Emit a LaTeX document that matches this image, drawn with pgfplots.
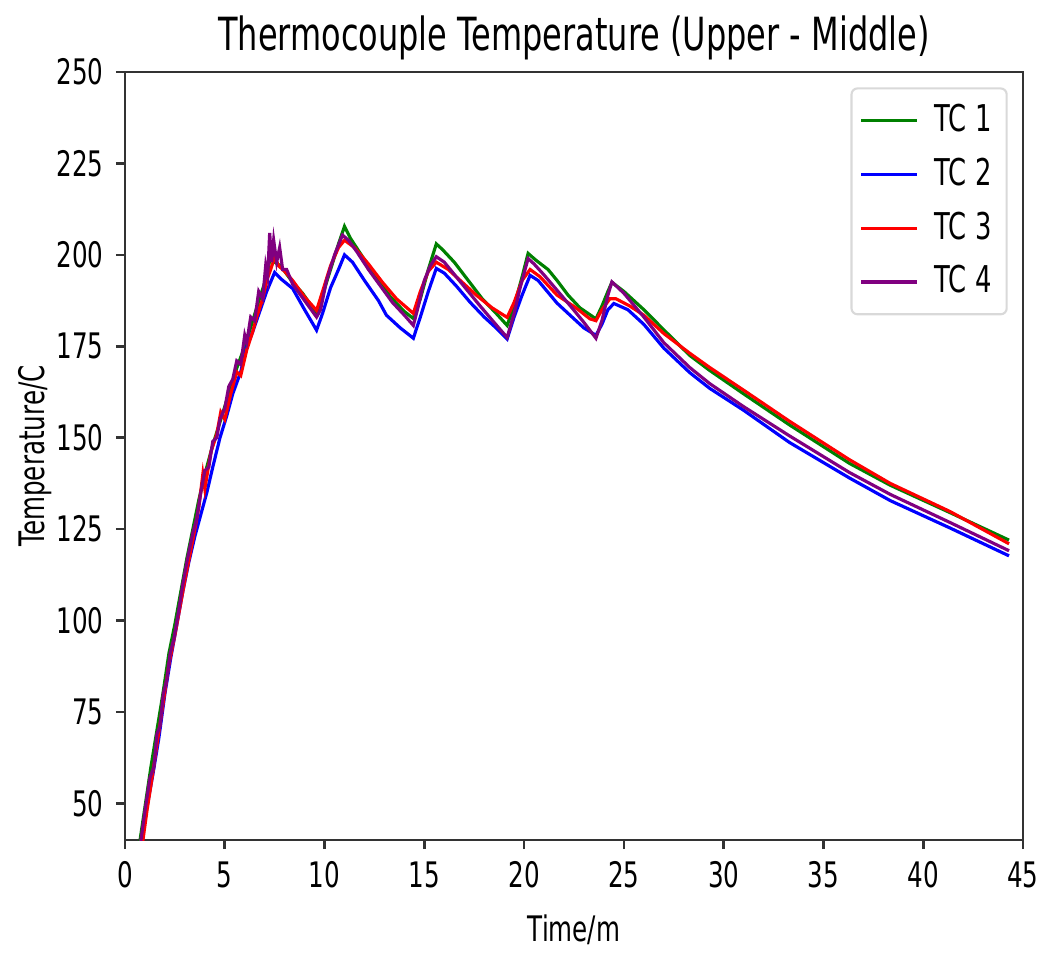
\documentclass[border=0pt]{standalone}
\usepackage{fontspec}
\setmainfont{DejaVu Sans}[FakeStretch=0.7]
\usepackage{pgfplots}
\pgfplotsset{compat=1.18}

\definecolor{tcgreen}{RGB}{0,128,0}
\definecolor{tcblue}{RGB}{0,0,255}
\definecolor{tcred}{RGB}{255,0,0}
\definecolor{tcpurple}{RGB}{128,0,128}

\begin{document}
\begin{tikzpicture}
\begin{axis}[
  scale only axis, width=89.8mm, height=76.8mm,
  xmin=0, xmax=45, ymin=40, ymax=250,
  xtick={0,5,...,45}, ytick={50,75,...,250},
  tick pos=left,
  tick align=outside, major tick length=0.9mm,
  axis line style={line width=0.75pt, black!80},
  every tick/.style={line width=0.75pt, black!80},
  /pgf/number format/assume math mode=true,
  tick label style={font=\fontsize{10}{12}\selectfont},
  label style={font=\fontsize{10.5}{12}\selectfont},
  every axis title/.style={at={(axis description cs:0.5,1.0443)}, anchor=center,
    font=\fontsize{13}{15}\selectfont},
  every axis x label/.style={at={(axis description cs:0.5,-0.117)}, anchor=center},
  every axis y label/.style={at={(axis description cs:-0.1002,0.5)}, rotate=90, anchor=center},
  title={Thermocouple Temperature (Upper - Middle)},
  xlabel={Time/m}, ylabel={Temperature/C},
  legend style={at={(0.983,0.98)}, anchor=north east, draw=black!15, line width=0.6pt,
    rounded corners=0.6mm, font=\fontsize{10.5}{12}\selectfont, row sep=0.7mm,
    inner xsep=0.8mm, inner ysep=0.9mm,
    /tikz/every odd column/.append style={column sep=0.9mm}},
  legend cell align=left,
  legend image code/.code={\draw[#1] (0mm,0mm) -- (5.6mm,0mm);},
  every axis plot/.append style={line width=0.9pt},
]
\addplot[tcgreen] coordinates {
(0.7,38) (1.0,49) (1.3,60) (1.6,70) (1.9,80) (2.2,91) (2.5,99) (2.8,108) (3.1,117) (3.4,125)
(3.7,133) (4.0,140) (4.4,148) (4.8,155) (5.2,162) (5.6,169) (6.0,175) (6.4,182) (6.8,189)
(7.1,194) (7.3,200) (7.5,198) (7.8,197) (8.4,192.5) (8.9,189.5) (9.6,184) (9.9,189) (10.3,196)
(10.7,203) (11.0,207.8) (11.3,204.5) (11.9,199.5) (12.6,194) (13.3,188.5) (14.0,184.5)
(14.45,182.6) (14.8,188) (15.2,196) (15.6,203) (15.9,201.5) (16.5,198) (17.2,193) (17.9,188)
(18.6,184) (19.15,180.7) (19.5,186) (19.9,194) (20.2,200.4) (20.6,198.5) (21.2,196) (21.65,193)
(22.2,189) (22.8,185.5) (23.6,182.5) (23.9,186) (24.2,190) (24.4,192.5) (25.0,190) (26.0,185)
(27.0,179.5) (28.3,172.5) (29.3,168.4) (31,162) (33.3,153.5) (36.3,143) (38.35,137)
(41.35,129.5) (44.3,122)
};
\addlegendentry{TC 1}
\addplot[tcblue] coordinates {
(0.8,38) (1.1,49) (1.4,58) (1.7,68) (2.0,80) (2.3,90) (2.6,99) (2.9,108) (3.2,116) (3.5,123)
(3.8,129) (4.1,135) (4.4,142) (4.76,150) (5.1,156) (5.4,162) (5.8,168) (6.1,174.7) (6.4,179)
(6.77,184.8) (7.1,190) (7.5,195.2) (7.8,193.5) (8.4,190.8) (9.0,185) (9.6,179.4) (9.9,184)
(10.3,191) (10.7,196) (11.0,200) (11.4,198) (12.0,193) (12.7,187.5) (13.1,183.5) (13.8,180)
(14.45,177.2) (14.8,183) (15.2,190) (15.6,196.3) (16.0,195) (16.6,191.5) (17.3,187) (18.0,183)
(18.6,180) (19.15,177) (19.5,183) (19.9,189) (20.3,194.4) (20.7,193) (21.65,186.8) (22.5,182.5)
(23.0,180) (23.6,178) (23.9,181) (24.2,185) (24.5,186.7) (25.2,185) (26.0,181) (27.0,174.5)
(28.3,167.8) (29.3,163.5) (31,157.5) (33.3,148.7) (36.3,139) (38.35,132.8) (41.35,125.3)
(44.3,117.7)
};
\addlegendentry{TC 2}
\addplot[tcred] coordinates {
(0.85,38) (1.1,48) (1.3,55) (1.6,66) (1.9,77) (2.2,88) (2.5,96) (2.7,102) (3.0,111) (3.4,122)
(3.7,131) (3.9,140) (4.0,136) (4.3,146) (4.6,151) (4.8,157) (5.0,155) (5.3,162) (5.6,168)
(5.8,167) (6.1,174) (6.4,179) (6.6,183) (6.9,188) (7.1,193) (7.3,196) (7.5,199.4) (7.7,197)
(8.0,195.5) (8.4,193) (9.0,188.5) (9.6,184.8) (9.9,190) (10.3,197) (10.7,202) (11.0,204)
(11.5,202) (12.2,197.5) (12.9,192.5) (13.6,188) (14.45,184) (14.8,190) (15.2,195.5) (15.6,198)
(16.2,196) (16.9,192.5) (17.6,189) (18.4,185.5) (19.15,182.9) (19.5,187) (19.9,193) (20.3,196)
(20.8,194) (21.65,189) (22.6,185.5) (23.3,182.5) (23.6,182) (23.9,185) (24.3,188) (24.6,188)
(25.3,186) (26.0,183.5) (27.0,178.5) (28.3,173.1) (29.3,169.2) (31,163) (33.3,154.5)
(36.3,144) (38.35,137.5) (41.35,129.8) (44.3,121)
};
\addlegendentry{TC 3}
\addplot[tcpurple] coordinates {
(0.75,38) (1.0,48) (1.25,57) (1.45,60) (1.6,69) (1.75,71) (1.92,80) (2.1,84) (2.26,91)
(2.45,95) (2.67,102) (2.9,110) (3.1,116) (3.4,124) (3.6,128) (3.8,135) (4.0,141) (4.2,142)
(4.4,149) (4.6,150) (4.76,155) (5.0,158) (5.2,164) (5.4,166) (5.6,171) (5.8,170) (6.0,178)
(6.1,176) (6.3,183) (6.5,182) (6.7,190) (6.9,188) (7.05,197) (7.15,194) (7.25,206) (7.35,198)
(7.45,204) (7.6,198) (7.75,202) (7.9,196) (8.1,196) (8.4,192) (8.8,189) (9.2,186) (9.6,183)
(9.8,185) (10.1,193) (10.5,200) (10.9,205.4) (11.2,204) (11.6,201) (12.2,196) (12.8,191.5)
(13.4,187) (14.0,183.5) (14.45,180.7) (14.7,186) (15.0,193) (15.3,197) (15.6,199.5) (16.0,198)
(16.6,194) (17.2,190) (17.8,186) (18.5,181.5) (19.15,177.4) (19.5,184) (19.8,191) (20.2,199)
(20.5,197.5) (21.0,194.5) (21.7,190) (22.4,185.5) (23.0,181.5) (23.6,177.2) (23.9,182)
(24.2,189) (24.4,192.6) (25.0,189.5) (26.0,183) (27.0,176) (28.3,169.2) (29.3,164.8)
(31,158.5) (33.3,150.5) (36.3,140.5) (38.35,134.5) (41.35,126.8) (44.3,119.1)
};
\addlegendentry{TC 4}
\end{axis}
\pgfresetboundingbox
\path ([shift={(-12.5mm,-11.2mm)}]current axis.south west) rectangle ([shift={(1.7mm,7.2mm)}]current axis.north east);
\end{tikzpicture}
\end{document}
